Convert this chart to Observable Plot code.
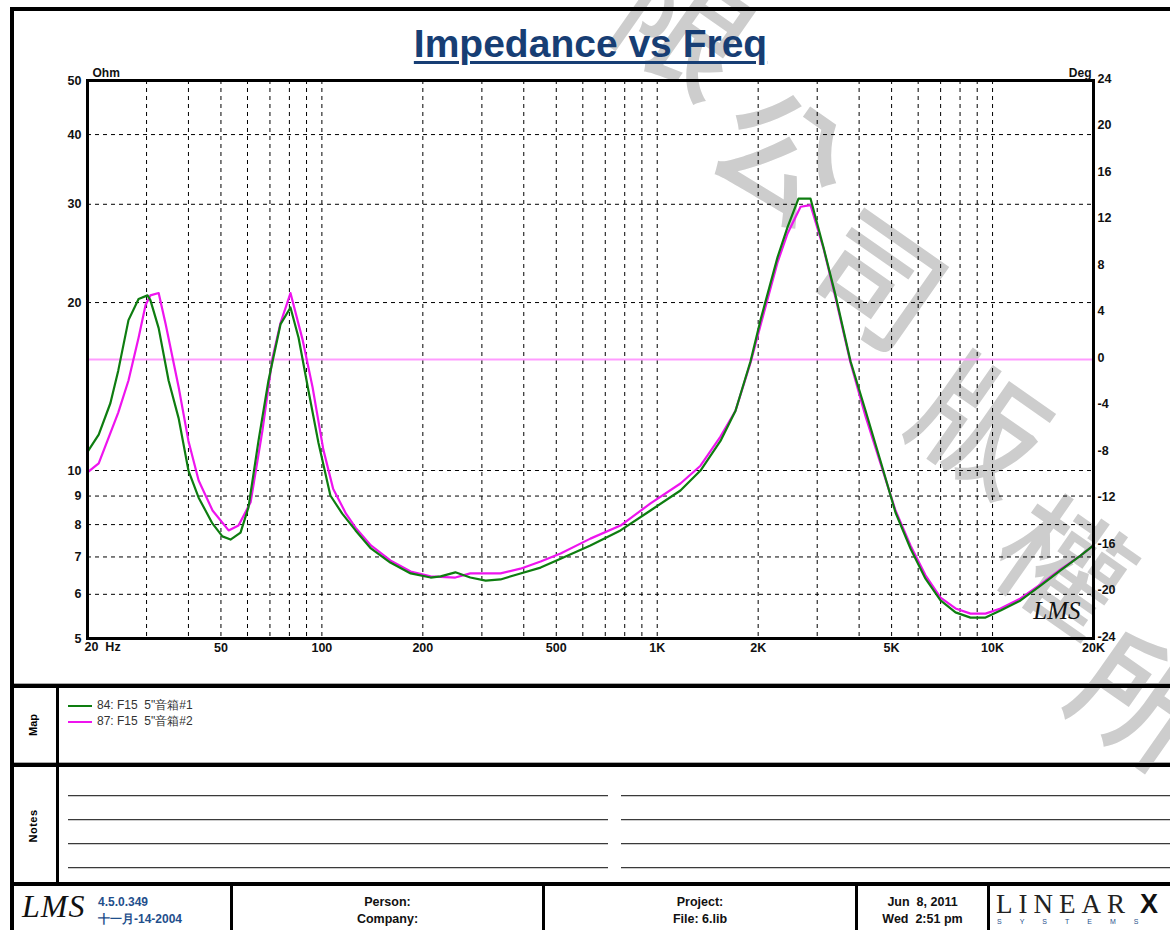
<!DOCTYPE html>
<html><head><meta charset="utf-8">
<script src="https://cdn.jsdelivr.net/npm/d3@7"></script>
<script src="https://cdn.jsdelivr.net/npm/@observablehq/plot@0.6"></script>
<style>
body{margin:0;background:#fff;font-family:"Liberation Sans",Arial,sans-serif;}
#page{position:relative;width:1170px;height:930px;overflow:hidden;background:#fff;}
.a{position:absolute;}
.k{position:absolute;background:#000;}
.wm{position:absolute;font-family:"Noto Sans CJK TC","Noto Sans CJK SC",sans-serif;font-weight:500;font-size:128px;color:#cdcdcd;line-height:1;transform:translate(-50%,-50%) rotate(35deg);}
.ft{position:absolute;font-weight:bold;font-size:12.5px;color:#111;text-align:center;white-space:pre;}
.nl{position:absolute;height:1px;background:#3a3a3a;box-shadow:0 1px 0 #ccc;}
#chart svg{background:transparent;}
</style></head><body><div id="page">
<div id="wm"></div>
<div id="chart" class="a" style="left:0;top:0"></div>
<div class="a" style="left:0;width:1181px;top:24px;text-align:center;font-weight:bold;font-size:39px;line-height:39px;color:#173e74;text-decoration:underline;text-decoration-thickness:3px;text-underline-offset:4px;">Impedance vs Freq</div>
<div class="k" style="left:10px;top:7px;width:1160px;height:4px"></div>
<div class="k" style="left:10px;top:7px;width:4px;height:923px"></div>
<div class="a" style="left:14px;top:683px;width:1156px;height:1px;background:#aaa"></div>
<div class="k" style="left:10px;top:684px;width:1160px;height:4px"></div>
<div class="a" style="left:14px;top:762px;width:1156px;height:1px;background:#aaa"></div>
<div class="k" style="left:10px;top:763px;width:1160px;height:4px"></div>
<div class="k" style="left:10px;top:882px;width:1160px;height:4px"></div>
<div class="k" style="left:56px;top:684px;width:3px;height:200px"></div>
<div class="k" style="left:230px;top:884px;width:3px;height:46px"></div>
<div class="k" style="left:542px;top:884px;width:3px;height:46px"></div>
<div class="k" style="left:855px;top:884px;width:3px;height:46px"></div>
<div class="k" style="left:987px;top:884px;width:3px;height:46px"></div>
<div class="a" style="left:33px;top:725px;transform:translate(-50%,-50%) rotate(-90deg);font-weight:bold;font-size:11px;">Map</div>
<div class="a" style="left:33px;top:826px;transform:translate(-50%,-50%) rotate(-90deg);font-weight:bold;font-size:11px;letter-spacing:0.5px">Notes</div>
<div id="legend"></div>
<div id="notes"></div>
<div class="a" style="left:22px;top:888px;font-family:'Liberation Serif',serif;font-style:italic;font-size:32px;letter-spacing:1px;color:#111">LMS</div>
<div class="a" style="left:98px;top:894px;font-weight:bold;font-size:12px;color:#1f4f8c;line-height:17px;white-space:pre">4.5.0.349<br>十一月-14-2004</div>
<div class="ft" style="left:233px;width:309px;top:894px;line-height:17px">Person:<br>Company:</div>
<div class="ft" style="left:545px;width:310px;top:894px;line-height:17px">Project:<br>File: 6.lib</div>
<div class="ft" style="left:858px;width:129px;top:894px;line-height:17px">Jun  8, 2011<br>Wed  2:51 pm</div>
<div class="a" style="left:996px;top:891px;font-family:'Liberation Serif',serif;font-size:27px;letter-spacing:6px;color:#222;line-height:27px">LINEAR</div>
<div class="a" style="left:1140px;top:891px;font-family:'Liberation Sans',sans-serif;font-weight:900;font-size:27px;color:#111;line-height:27px">X</div>
<div class="a" style="left:997px;top:918px;font-size:7px;line-height:8px;letter-spacing:18px;color:#1f4f8c">SYSTEMS</div>
</div>
<script>
// ---- data ----
const freqTicks  = [20, 50, 100, 200, 500, 1000, 2000, 5000, 10000, 20000];
const freqLabels = ["20\u00a0\u00a0Hz", "50", "100", "200", "500", "1K", "2K", "5K", "10K", "20K"];
const ohmTicks   = [5, 6, 7, 8, 9, 10, 20, 30, 40, 50];
const degTicks   = [24, 20, 16, 12, 8, 4, 0, -4, -8, -12, -16, -20, -24];
const xGrid = [30,40,50,60,70,80,90,100,200,300,400,500,600,700,800,900,1000,2000,3000,4000,5000,6000,7000,8000,9000,10000];
const yGrid = [6,7,8,9,10,20,30,40];
const phaseDeg = [0];

const series1Name = "84: F15  5\"音箱#1";
const series1Freq = [20,21.6,23.4,24.7,26.5,28.4,30.2,30.8,32.6,34.9,37.4,40,42.9,47.2,50.5,53.4,57.2,60.4,64.7,69.3,75.3,80.6,85.2,91.2,97.7,106,115,126,140,160,184,211,226,250,277,308,341,391,449,515,632,777,955,1173,1346,1544,1712,1898,2032,2284,2447,2638,2866,3133,3402,3771,4181,4633,5136,5692,6310,6996,7755,8596,9528,10562,12118,13900,15945,18294,20000];
const series1Ohm  = [10.8,11.6,13.2,15.1,18.6,20.3,20.6,20.2,18.0,14.5,12.4,10.0,8.94,8.03,7.62,7.52,7.74,8.59,11.3,14.5,18.3,19.6,17.3,13.9,11.2,9.02,8.37,7.81,7.25,6.84,6.54,6.43,6.46,6.57,6.43,6.35,6.38,6.54,6.70,6.95,7.34,7.81,8.48,9.21,10.0,11.3,12.8,15.7,18.6,24.1,27.3,30.7,30.7,25.1,20.6,15.7,12.8,10.4,8.41,7.25,6.40,5.85,5.57,5.45,5.45,5.61,5.85,6.22,6.62,7.04,7.34];

const series2Name = "87: F15  5\"音箱#2";
const series2Freq = [20,21.6,24.7,26.5,28.4,29.8,30.8,32.6,34.2,37.4,40,42.9,47.2,52.7,56.4,61.3,66.5,71.2,75.3,80.6,87.5,93.8,101,108,118,126,140,160,184,211,250,277,341,391,449,515,632,777,955,1173,1346,1544,1712,1898,2032,2284,2447,2676,2866,3133,3402,3771,4181,4633,5136,5692,6310,6996,7755,8596,9528,10562,12118,13900,15945,18294,20000];
const series2Ohm  = [9.92,10.3,12.7,14.5,17.3,19.8,20.6,20.8,18.3,14.1,11.3,9.60,8.48,7.81,7.97,8.77,11.8,15.9,18.4,20.8,17.2,14.1,10.9,9.28,8.37,7.90,7.34,6.90,6.59,6.46,6.43,6.54,6.54,6.67,6.87,7.10,7.55,7.97,8.73,9.48,10.2,11.5,12.8,15.6,18.2,23.6,26.6,29.7,29.9,25.0,20.4,15.6,12.5,10.3,8.48,7.34,6.49,5.92,5.66,5.54,5.54,5.66,5.90,6.25,6.65,7.04,7.34];

const green = "#0e7d10", magenta = "#ee14ee", phaseColor = "#ff9cff";
const watermark = ["限","公","司","版","權","所"];

// ---- build ----
const s1 = series1Freq.map((f,i)=>({f, z: series1Ohm[i]}));
const s2 = series2Freq.map((f,i)=>({f, z: series2Ohm[i]}));
// degree axis shares the log ohm range: -24..24 deg spans 5..50 ohm
const deg2ohm = d => 5 * Math.pow(10, (d + 24) / 48);
const font = {fontFamily: "Liberation Sans, Arial, sans-serif", fontWeight: "bold", fontSize: 12.5, fill: "#111"};

const chart = Plot.plot({
  width: 1170, height: 686,
  marginLeft: 87, marginRight: 77, marginTop: 80, marginBottom: 48,
  style: {background: "transparent", overflow: "visible"},
  x: {type: "log", domain: [20, 20000], axis: null},
  y: {type: "log", domain: [5, 50], axis: null},
  marks: [
    Plot.ruleX(xGrid, {x: d => d, stroke: "#000", strokeWidth: 1, strokeDasharray: "4,4"}),
    Plot.ruleY(yGrid, {y: d => d, stroke: "#000", strokeWidth: 1, strokeDasharray: "4,4"}),
    Plot.ruleY(phaseDeg, {y: deg2ohm, stroke: phaseColor, strokeWidth: 2}),
    Plot.line(s2, {x: "f", y: "z", stroke: magenta, strokeWidth: 2.2}),
    Plot.line(s1, {x: "f", y: "z", stroke: green, strokeWidth: 2.2}),
    Plot.frame({stroke: "#000", strokeWidth: 3}),
    Plot.text(ohmTicks, {y: d => d, text: d => String(d), frameAnchor: "left", dx: -6, textAnchor: "end", ...font}),
    Plot.text(degTicks, {y: deg2ohm, text: d => String(d), frameAnchor: "right", dx: 4, dy: -2, textAnchor: "start", ...font}),
    Plot.text(freqTicks.slice(0,1), {x: d => d, text: () => freqLabels[0], frameAnchor: "bottom", dy: 12, dx: -3, textAnchor: "start", ...font}),
    Plot.text(freqTicks.slice(1), {x: d => d, text: (d,i) => freqLabels[i+1], frameAnchor: "bottom", dy: 13, ...font}),
    Plot.text(["Ohm"], {frameAnchor: "top-left", dx: 5, dy: -12, textAnchor: "start", ...font, fontSize: 12}),
    Plot.text(["Deg"], {frameAnchor: "top-right", dx: -2, dy: -12, textAnchor: "end", ...font, fontSize: 12}),
    Plot.text(["LMS"], {frameAnchor: "bottom-right", dx: -13, dy: -20, textAnchor: "end", fontFamily: "Liberation Serif, serif", fontStyle: "italic", fontSize: 25, fill: "#111"})
  ]
});
document.getElementById("chart").appendChild(chart);

// watermark
const wmPos = [[688,22],[785,150],[882,275],[985,420],[1068,560],[1145,695]];
document.getElementById("wm").innerHTML = watermark.map((c,i)=>
  `<div class="wm" style="left:${wmPos[i][0]}px;top:${wmPos[i][1]}px">${c}</div>`).join("");

// legend
const leg = [[series1Name, green],[series2Name, magenta]];
document.getElementById("legend").innerHTML = leg.map((d,i)=>
  `<div class="a" style="left:68px;top:${705+i*16}px;width:24px;height:2px;background:${d[1]}"></div>` +
  `<div class="a" style="left:97px;top:${698+i*16}px;font-size:12px;color:#333;white-space:pre;line-height:14px">${d[0].replace(/"/g,'&quot;')}</div>`).join("");

// notes lines
const noteRows = [795, 819, 843, 867];
document.getElementById("notes").innerHTML = noteRows.map(y=>
  `<div class="nl" style="left:68px;top:${y}px;width:540px"></div><div class="nl" style="left:621px;top:${y}px;width:549px"></div>`).join("");
</script>
</body></html>
